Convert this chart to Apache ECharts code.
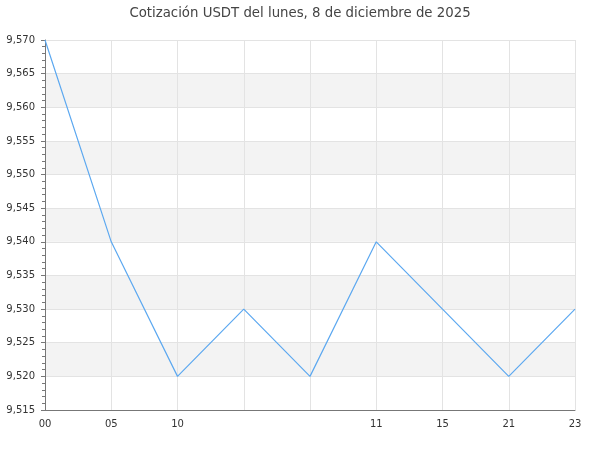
<!DOCTYPE html>
<html>
<head>
<meta charset="utf-8">
<script src="https://cdn.jsdelivr.net/npm/echarts@6/dist/echarts.min.js"></script>
<style>
	html, body { margin: 0; padding: 0; background: #fff; }
	#chart { width: 600px; height: 450px; }
</style>
</head>
<body>
<div id="chart"></div>
<script>
	const hours = ['00', '05', '10', '', '', '11', '15', '21', '23'];
	const prices = [9.570, 9.540, 9.520, 9.530, 9.520, 9.540, 9.530, 9.520, 9.530];
	const yMin = 9.515;
	const yMax = 9.570;
	const yStep = 0.005;

	let chart = echarts.init(document.getElementById('chart'));
	const option = {
		animation: false,
		textStyle: {
			fontFamily: 'DejaVu Sans, sans-serif'
		},
		title: {
			text: 'Cotización USDT del lunes, 8 de diciembre de 2025',
			left: 'center',
			top: 2,
			textStyle: {
				color: '#444',
				fontSize: 13.3,
				fontWeight: 'normal',
				fontFamily: 'DejaVu Sans, sans-serif'
			}
		},
		grid: {
			left: 45,
			right: 25,
			top: 40,
			bottom: 40
		},
		xAxis: {
			type: 'category',
			boundaryGap: false,
			data: hours,
			axisLine: { lineStyle: { color: '#777' } },
			axisTick: { show: false },
			axisLabel: {
				interval: 0,
				color: '#333',
				fontSize: 10,
				margin: 9
			},
			splitLine: {
				show: true,
				interval: 0,
				lineStyle: { color: '#e3e3e3' }
			}
		},
		yAxis: {
			type: 'value',
			min: yMin,
			max: yMax,
			interval: yStep,
			axisLine: { show: true, lineStyle: { color: '#777' } },
			axisTick: { show: true, length: 4, lineStyle: { color: '#777' } },
			minorTick: { show: true, splitNumber: 5, length: 3, lineStyle: { color: '#777' } },
			axisLabel: {
				color: '#333',
				fontSize: 10,
				margin: 10,
				formatter: function(v) {
					return v.toFixed(3).replace('.', ',');
				}
			},
			splitLine: { lineStyle: { color: '#e3e3e3' } },
			splitArea: {
				show: true,
				areaStyle: { color: ['#ffffff', '#f3f3f3'] }
			}
		},
		series: [{
			type: 'line',
			data: prices,
			symbol: 'none',
			lineStyle: { color: '#5ca8f0', width: 1.2 },
			itemStyle: { color: '#5ca8f0' }
		}]
	};
	chart.setOption(option);
</script>
</body>
</html>
